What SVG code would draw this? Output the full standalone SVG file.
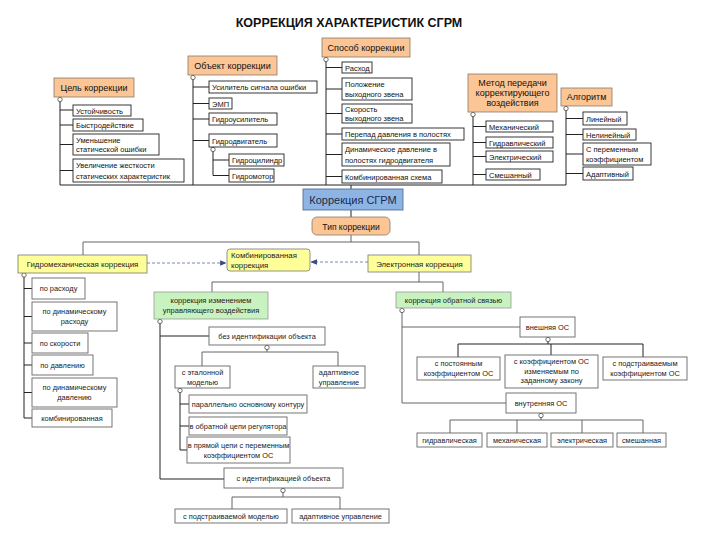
<svg xmlns="http://www.w3.org/2000/svg" width="720" height="540" viewBox="0 0 720 540">
<defs>
<style>
text{font-family:"Liberation Sans",Arial,sans-serif;fill:#111}
.title{font-size:12.5px;font-weight:bold;text-anchor:middle}
.hd rect{fill:#fbc595;stroke:#8a7a6a;stroke-width:0.8}
.hd text{font-size:9px;text-anchor:middle}
.lf rect{fill:#fff;stroke:#222;stroke-width:0.9}
.lf text{font-size:7.5px}
.lw rect{fill:#fff;stroke:#666;stroke-width:0.9}
.lw text{font-size:7.4px;text-anchor:middle;fill:#222}
.yl rect{fill:#ffff99;stroke:#777;stroke-width:0.8}
.yl text{font-size:7.8px;fill:#222}
.gr rect{fill:#c8f2c0;stroke:#999;stroke-width:0.8}
.gr text{font-size:7.5px;text-anchor:middle;fill:#222}
.bl rect{fill:#8db4e2;stroke:#55709a;stroke-width:0.9}
.bl text{font-size:11px;text-anchor:middle;fill:#1a2a50}
.c1{fill:none;stroke:#222;stroke-width:1}
.c2{fill:none;stroke:#555;stroke-width:0.9}
.dash{fill:none;stroke:#6a7aa8;stroke-width:0.9;stroke-dasharray:3 2}
.tg{fill:#fff;stroke:#333;stroke-width:0.7}
</style>
<marker id="ah" viewBox="0 0 8 8" refX="7.5" refY="4" markerWidth="7" markerHeight="7" orient="auto">
<path d="M0 0.5 L8 4 L0 7.5 Z" fill="#3a4a80"/>
</marker>
</defs>
<rect width="720" height="540" fill="#fff"/>
<text class="title" x="349" y="27">КОРРЕКЦИЯ ХАРАКТЕРИСТИК СГРМ</text>

<g id="connectors">
<path class="c1" d="M60 97V185M60 110H73M60 125H73M60 144.5H73M60 170.5H73"/>
<path class="c1" d="M193 75V185M193 87H209M193 103.5H209M193 119H209M193 140.5H209M213 147V175.5M213 160H229M213 175.5H229"/>
<path class="c1" d="M326 57V185M326 67.5H342M326 89H342M326 113.5H342M326 134H342M326 154.5H342M326 176.5H342"/>
<path class="c1" d="M473 112V185M473 126.5H486M473 142.5H486M473 156.5H486M473 174.5H486"/>
<path class="c1" d="M566 106V185M566 118.5H583M566 134.5H583M566 154H583M566 173.5H583"/>
<path class="c1" d="M60 185H566M351 185V189M351 210V217"/>
<path class="c2" d="M351 235V242M83 242H419M83 242V255M419 242V255"/>
<path class="dash" d="M147 263H226" marker-end="url(#ah)"/>
<path class="dash" d="M368 262H311" marker-end="url(#ah)"/>
<path class="c1" d="M24 273V418M24 288.5H32M24 316.5H32M24 343H32M24 365H32M24 392.5H32M24 418H32"/>
<path class="c2" d="M419 272V282M212 282H443M212 282V292M443 282V292"/>
<path class="c1" d="M160 319V479H224M160 336H209"/>
<path class="c2" d="M267 345V352M202 352H338M202 352V366M338 352V366"/>
<path class="c1" d="M180 388V450M180 404H189M180 426H189M180 450H187"/>
<path class="c2" d="M283 488V497M232 497H340M232 497V509M340 497V509"/>
<path class="c2" d="M402 308V403H506M402 327H520"/>
<path class="c1" d="M548 337V344M458 344H643M458 344V357M551 344V355M643 344V357"/>
<path class="c2" d="M541 413V420M450 420H643M450 420V433M517 420V433M582 420V433M643 420V433"/>
</g>

<g id="toggles">
<circle class="tg" cx="60" cy="99.5" r="2.2"/>
<circle class="tg" cx="193" cy="77.5" r="2.2"/>
<circle class="tg" cx="326" cy="59.5" r="2.2"/>
<circle class="tg" cx="473" cy="114.5" r="2.2"/>
<circle class="tg" cx="566" cy="108.5" r="2.2"/>
<circle class="tg" cx="213" cy="149.5" r="2.2"/>
<circle class="tg" cx="24" cy="275" r="2.2"/>
<circle class="tg" cx="160" cy="321.5" r="2.2"/>
<circle class="tg" cx="402" cy="310.5" r="2.2"/>
<circle class="tg" cx="267" cy="347.5" r="2.2"/>
<circle class="tg" cx="180" cy="390.5" r="2.2"/>
<circle class="tg" cx="283" cy="490.5" r="2.2"/>
<circle class="tg" cx="548" cy="339.5" r="2.2"/>
<circle class="tg" cx="541" cy="415.5" r="2.2"/>
</g>

<g id="n-cel" class="hd"><rect x="54" y="78" width="80" height="19"/><text x="94" y="91">Цель коррекции</text></g>
<g id="n-cel-1" class="lf"><rect x="73" y="105" width="58" height="11"/><text x="76" y="113.5">Устойчивость</text></g>
<g id="n-cel-2" class="lf"><rect x="73" y="119" width="70" height="12"/><text x="76" y="128">Быстродействие</text></g>
<g id="n-cel-3" class="lf"><rect x="73" y="134" width="86" height="21"/><text x="76" y="142.5">Уменьшение</text><text x="76" y="152">статической ошибки</text></g>
<g id="n-cel-4" class="lf"><rect x="73" y="159" width="111" height="23"/><text x="76" y="168">Увеличение жесткости</text><text x="76" y="178.5">статических характеристик</text></g>

<g id="n-obj" class="hd"><rect x="188" y="56" width="89" height="19"/><text x="232.5" y="69">Объект коррекции</text></g>
<g id="n-obj-1" class="lf"><rect x="209" y="81" width="108" height="12"/><text x="212" y="90">Усилитель сигнала ошибки</text></g>
<g id="n-obj-2" class="lf"><rect x="209" y="98" width="23" height="11"/><text x="212" y="106.5">ЭМП</text></g>
<g id="n-obj-3" class="lf"><rect x="209" y="113" width="68" height="12"/><text x="212" y="122">Гидроусилитель</text></g>
<g id="n-obj-4" class="lf"><rect x="209" y="134" width="68" height="13"/><text x="212" y="143.5">Гидродвигатель</text></g>
<g id="n-obj-5" class="lf"><rect x="229" y="154" width="55" height="12"/><text x="232" y="163">Гидроцилиндр</text></g>
<g id="n-obj-6" class="lf"><rect x="229" y="169" width="45" height="13"/><text x="232" y="178.5">Гидромотор</text></g>

<g id="n-spos" class="hd"><rect x="322" y="38" width="88" height="19"/><text x="366" y="51">Способ коррекции</text></g>
<g id="n-spos-1" class="lf"><rect x="342" y="62" width="30" height="11"/><text x="345" y="70.5">Расход</text></g>
<g id="n-spos-2" class="lf"><rect x="342" y="78" width="70" height="22"/><text x="345" y="87">Положение</text><text x="345" y="97">выходного звена</text></g>
<g id="n-spos-3" class="lf"><rect x="342" y="104" width="70" height="19"/><text x="345" y="112">Скорость</text><text x="345" y="121">выходного звена</text></g>
<g id="n-spos-4" class="lf"><rect x="342" y="128" width="122" height="12"/><text x="345" y="137">Перепад давления в полостях</text></g>
<g id="n-spos-5" class="lf"><rect x="342" y="143" width="108" height="23"/><text x="345" y="152">Динамическое давление в</text><text x="345" y="162.5">полостях гидродвигателя</text></g>
<g id="n-spos-6" class="lf"><rect x="342" y="170" width="100" height="13"/><text x="345" y="179.5">Комбинированная схема</text></g>

<g id="n-metod" class="hd"><rect x="468" y="74" width="89" height="38"/><text x="512.5" y="86">Метод передачи</text><text x="512.5" y="96">корректирующего</text><text x="512.5" y="106">воздействия</text></g>
<g id="n-metod-1" class="lf"><rect x="486" y="121" width="67" height="11"/><text x="489" y="129.5">Механический</text></g>
<g id="n-metod-2" class="lf"><rect x="486" y="137" width="67" height="11"/><text x="489" y="145.5">Гидравлический</text></g>
<g id="n-metod-3" class="lf"><rect x="486" y="151" width="67" height="11"/><text x="489" y="159.5">Электрический</text></g>
<g id="n-metod-4" class="lf"><rect x="486" y="169" width="54" height="11"/><text x="489" y="177.5">Смешанный</text></g>

<g id="n-alg" class="hd"><rect x="561" y="88" width="51" height="18"/><text x="586.5" y="100">Алгоритм</text></g>
<g id="n-alg-1" class="lf"><rect x="583" y="112" width="44" height="13"/><text x="586" y="121.5">Линейный</text></g>
<g id="n-alg-2" class="lf"><rect x="583" y="129" width="53" height="11"/><text x="586" y="137.5">Нелинейный</text></g>
<g id="n-alg-3" class="lf"><rect x="583" y="143" width="68" height="22"/><text x="586" y="152">С переменным</text><text x="586" y="162">коэффициентом</text></g>
<g id="n-alg-4" class="lf"><rect x="583" y="167" width="50" height="13"/><text x="586" y="176.5">Адаптивный</text></g>

<g id="n-center" class="bl"><rect x="303" y="189" width="100" height="21"/><text x="353" y="203.5">Коррекция СГРМ</text></g>
<g id="n-tip" class="hd"><rect x="312" y="217" width="78" height="18" rx="5"/><text x="351" y="229.5" style="font-size:8.5px">Тип коррекции</text></g>

<g id="n-gm" class="yl"><rect x="18" y="255" width="129" height="18"/><text x="82.5" y="267" text-anchor="middle">Гидромеханическая коррекция</text></g>
<g id="n-komb" class="yl"><rect x="227" y="249" width="83" height="22" rx="3"/><text x="231" y="258">Комбинированная</text><text x="231" y="268">коррекция</text></g>
<g id="n-el" class="yl"><rect x="368" y="255" width="103" height="17"/><text x="419.5" y="266.5" text-anchor="middle">Электронная коррекция</text></g>

<g id="n-gm-1" class="lw"><rect x="32" y="278" width="53" height="21"/><text x="58.5" y="291">по расходу</text></g>
<g id="n-gm-2" class="lw"><rect x="32" y="302" width="85" height="29"/><text x="74.5" y="313.5">по динамическому</text><text x="74.5" y="323.5">расходу</text></g>
<g id="n-gm-3" class="lw"><rect x="32" y="333" width="56" height="20"/><text x="60" y="346">по скорости</text></g>
<g id="n-gm-4" class="lw"><rect x="32" y="355" width="61" height="20"/><text x="62.5" y="368">по давлению</text></g>
<g id="n-gm-5" class="lw"><rect x="32" y="378" width="85" height="29"/><text x="74.5" y="389.5">по динамическому</text><text x="74.5" y="399.5">давлению</text></g>
<g id="n-gm-6" class="lw"><rect x="32" y="409" width="80" height="18"/><text x="72" y="421">комбинированная</text></g>

<g id="n-upr" class="gr"><rect x="154" y="292" width="114" height="27"/><text x="211" y="302.5">коррекция изменением</text><text x="211" y="313">управляющего воздействия</text></g>
<g id="n-os" class="gr"><rect x="396" y="292" width="115" height="16"/><text x="453.5" y="303">коррекция обратной связью</text></g>

<g id="n-bez" class="lw"><rect x="209" y="327" width="116" height="18"/><text x="267" y="339">без идентификации объекта</text></g>
<g id="n-etal" class="lw"><rect x="175" y="366" width="55" height="22"/><text x="202.5" y="375">с эталонной</text><text x="202.5" y="385">моделью</text></g>
<g id="n-adapt1" class="lw"><rect x="313" y="366" width="52" height="22"/><text x="339" y="375">адаптивное</text><text x="339" y="385">управление</text></g>
<g id="n-etal-1" class="lw"><rect x="189" y="395" width="118" height="18"/><text x="248" y="407">параллельно основному контуру</text></g>
<g id="n-etal-2" class="lw"><rect x="189" y="417" width="98" height="18"/><text x="238" y="429">в обратной цепи регулятора</text></g>
<g id="n-etal-3" class="lw"><rect x="187" y="437" width="103" height="26"/><text x="238.5" y="448">в прямой цепи с переменным</text><text x="238.5" y="458">коэффициентом ОС</text></g>
<g id="n-ident" class="lw"><rect x="224" y="468" width="119" height="20"/><text x="283.5" y="481">с идентификацией объекта</text></g>
<g id="n-podstr" class="lw"><rect x="175" y="509" width="112" height="14"/><text x="231" y="519">с подстраиваемой моделью</text></g>
<g id="n-adapt2" class="lw"><rect x="292" y="509" width="97" height="14"/><text x="340.5" y="519">адаптивное управление</text></g>

<g id="n-vnesh" class="lw"><rect x="520" y="317" width="55" height="20"/><text x="547.5" y="330">внешняя ОС</text></g>
<g id="n-vnesh-1" class="lw"><rect x="417" y="357" width="83" height="23"/><text x="458.5" y="366">с постоянным</text><text x="458.5" y="376">коэффициентом ОС</text></g>
<g id="n-vnesh-2" class="lw"><rect x="505" y="355" width="93" height="33"/><text x="551.5" y="364">с коэффициентом ОС</text><text x="551.5" y="373.5">изменяемым по</text><text x="551.5" y="383">заданному закону</text></g>
<g id="n-vnesh-3" class="lw"><rect x="603" y="357" width="84" height="23"/><text x="645" y="366">с подстраиваемым</text><text x="645" y="376">коэффициентом ОС</text></g>
<g id="n-vnutr" class="lw"><rect x="506" y="393" width="70" height="20"/><text x="541" y="406">внутренняя ОС</text></g>
<g id="n-vnutr-1" class="lw"><rect x="417" y="433" width="65" height="14"/><text x="449.5" y="443">гидравлическая</text></g>
<g id="n-vnutr-2" class="lw"><rect x="487" y="433" width="60" height="14"/><text x="517" y="443">механическая</text></g>
<g id="n-vnutr-3" class="lw"><rect x="551" y="433" width="62" height="14"/><text x="582" y="443">электрическая</text></g>
<g id="n-vnutr-4" class="lw"><rect x="617" y="433" width="49" height="14"/><text x="641.5" y="443">смешанная</text></g>
</svg>
